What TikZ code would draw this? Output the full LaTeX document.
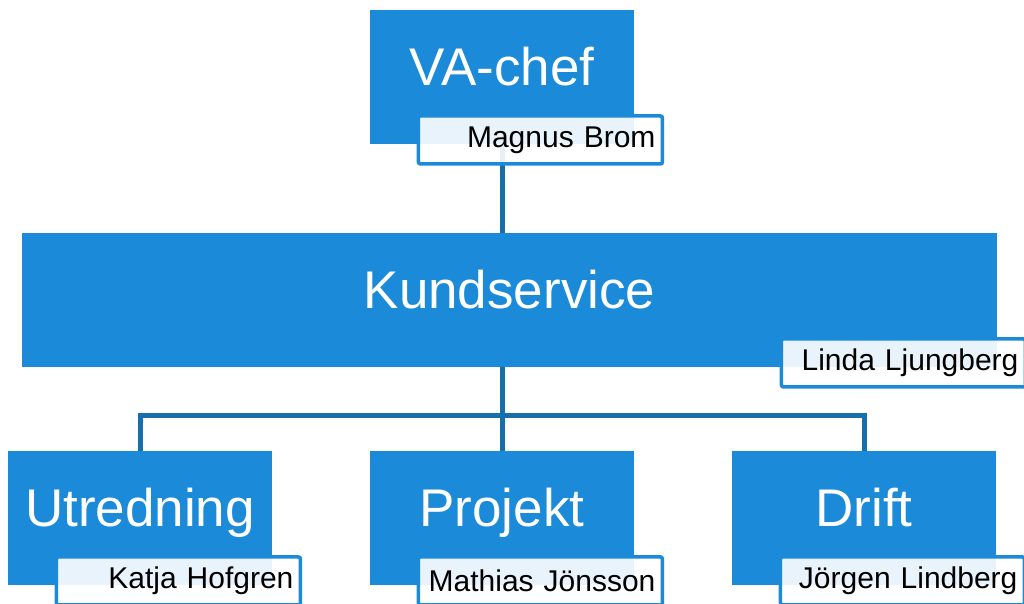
\documentclass[tikz,border=0pt]{standalone}
\usepackage{fontspec}
\setmainfont{Liberation Sans}
\usepackage{xcolor}
\usetikzlibrary{positioning}
\usetikzlibrary{backgrounds}
\definecolor{boxblue}{RGB}{27,139,217}
\definecolor{linkblue}{RGB}{22,110,172}
\tikzset{
  unitbox/.style={fill=boxblue,text=white,inner sep=0pt,minimum width=264pt,
    minimum height=134pt,font=\fontsize{53pt}{60pt}\selectfont,
    text height=40pt,text depth=23pt},
  namebox/.style={draw=boxblue,line width=3.5pt,fill=white,fill opacity=0.9,
    text opacity=1,rounded corners=2pt,text width=230pt,align=right,
    inner xsep=7pt,inner ysep=0pt,minimum height=48pt,
    font=\fontsize{30pt}{34pt}\selectfont,anchor=north east},
  link/.style={draw=linkblue,line width=5pt}
}
\begin{document}
\begin{tikzpicture}[x=1pt,y=-1pt]
  \useasboundingbox (0,0) rectangle (1024,603);
  % units
  \node[unitbox] (vachef) at (502,77) {VA-chef};
  \node[unitbox,minimum width=975pt] (kund) at (509.5,300) {Kundservice};
  \node[unitbox] (utred) at (140,518) {Utredning};
  \node[unitbox] (projekt) at (502,518) {Projekt};
  \node[unitbox] (drift) at (864,518) {Drift};
  % names
  \node[namebox] (brom) at ([xshift=30pt,yshift=30pt]vachef.south east) {Magnus Brom};
  \node[namebox] (ljung) at ([xshift=30pt,yshift=30pt]kund.south east) {Linda Ljungberg};
  \node[namebox] (hofgren) at ([xshift=30pt,yshift=30pt]utred.south east) {Katja Hofgren};
  \node[namebox] (jonsson) at ([xshift=30pt,yshift=30pt]projekt.south east) {Mathias Jönsson};
  \node[namebox] (lindberg) at ([xshift=30pt,yshift=30pt]drift.south east) {Jörgen Lindberg};
  \coordinate (bus) at (502,415);
  % links
  \begin{scope}[on background layer]
    \draw[link] (vachef.center) -- (vachef.center |- kund.center);
    \draw[link] (bus |- kund.center) -- (bus);
    \draw[link] (utred.center) |- (bus) -| (drift.center);
    \draw[link] (bus) -- (projekt.center);
  \end{scope}
\end{tikzpicture}
\end{document}
